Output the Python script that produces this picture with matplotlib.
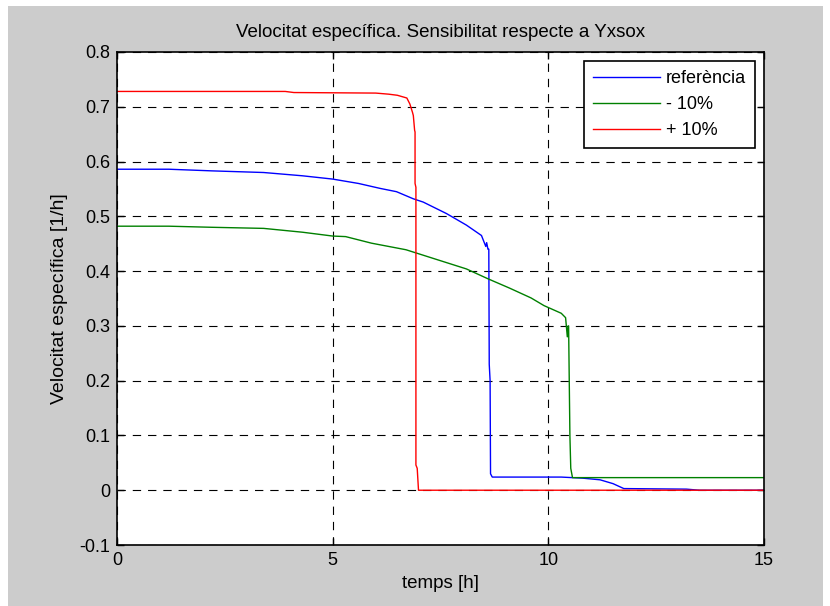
import matplotlib
matplotlib.use('Agg')
import matplotlib.pyplot as plt
from matplotlib.patches import Rectangle

plt.rcParams['font.family'] = ['Liberation Sans', 'DejaVu Sans']
plt.rcParams['lines.scale_dashes'] = False

# referència
t_blue = [0, 1.2, 2.2, 3.4, 4.3, 5.0, 5.6, 6.1, 6.48, 6.87, 7.1, 7.64, 8.1, 8.45,
          8.55, 8.57, 8.6, 8.62, 8.63, 8.65, 8.66, 8.7, 10.3, 10.8, 11.2, 11.5,
          11.75, 13.2, 13.5, 15]
v_blue = [0.586, 0.586, 0.583, 0.580, 0.574, 0.568, 0.560, 0.551, 0.545, 0.532,
          0.526, 0.505, 0.484, 0.465, 0.445, 0.452, 0.44, 0.44, 0.23, 0.20, 0.03,
          0.024, 0.024, 0.022, 0.019, 0.012, 0.003, 0.002, 0.0, 0.0]

# - 10%
t_green = [0, 1.2, 2.2, 3.4, 4.3, 5.0, 5.3, 5.9, 6.7, 7.1, 7.7, 8.1, 8.6, 9.1,
           9.6, 9.9, 10.3, 10.4, 10.44, 10.46, 10.47, 10.5, 10.52, 10.56, 15]
v_green = [0.482, 0.482, 0.480, 0.478, 0.471, 0.464, 0.463, 0.451, 0.439, 0.429,
           0.414, 0.404, 0.386, 0.369, 0.351, 0.337, 0.323, 0.315, 0.28, 0.30,
           0.30, 0.10, 0.04, 0.023, 0.023]

# + 10%
t_red = [0, 3.9, 4.1, 6.0, 6.3, 6.5, 6.72, 6.79, 6.85, 6.87, 6.90, 6.91, 6.91,
         6.93, 6.93, 6.96, 6.99, 15]
v_red = [0.728, 0.728, 0.726, 0.725, 0.723, 0.721, 0.716, 0.705, 0.69, 0.684,
         0.657, 0.654, 0.56, 0.553, 0.046, 0.04, 0.0, 0.0]

x_ticks = [0, 5, 10, 15]
y_ticks = [-0.1, 0, 0.1, 0.2, 0.3, 0.4, 0.5, 0.6, 0.7, 0.8]
y_tick_labels = ['-0.1', '0', '0.1', '0.2', '0.3', '0.4', '0.5', '0.6', '0.7', '0.8']

fig = plt.figure(figsize=(8.3, 6.06), dpi=100, facecolor='white')
fig.patches.append(Rectangle((8 / 830, 0), (823 - 8) / 830, 1 - 6 / 606,
                             transform=fig.transFigure, facecolor='#cccccc',
                             edgecolor='none', zorder=-10))
ax = fig.add_axes([117 / 830, 1 - 545 / 606, (764 - 117) / 830, (545 - 52) / 606])
ax.set_facecolor('white')

ax.plot(t_blue, v_blue, color='#0000ff', lw=1, label='referència')
ax.plot(t_green, v_green, color='#008000', lw=1, label='- 10%')
ax.plot(t_red, v_red, color='#ff0000', lw=1, label='+ 10%')

ax.set_xlim(0, 15)
ax.set_ylim(-0.1, 0.8)
ax.set_xticks(x_ticks)
ax.set_yticks(y_ticks)
ax.set_yticklabels(y_tick_labels)
ax.tick_params(direction='in', top=True, right=True, length=5, width=1,
               labelsize=13, pad=5)
for s in ax.spines.values():
    s.set_linewidth(1.2)

ax.grid(True, color='black', linewidth=0.8, linestyle=(0, (6, 5)))
ax.set_axisbelow(True)

ax.set_title('Velocitat específica. Sensibilitat respecte a Yxsox', fontsize=13.5, pad=11)
ax.set_xlabel('temps [h]', fontsize=13.5, labelpad=4)
ax.set_ylabel('Velocitat específica [1/h]', fontsize=14, labelpad=8)

leg = ax.legend(loc='upper right', fontsize=13, fancybox=False, framealpha=1,
                edgecolor='black', borderpad=0.5, handlelength=3.7,
                handletextpad=0.35, labelspacing=0.5, borderaxespad=0.5)
leg.get_frame().set_linewidth(1.2)

fig.savefig('out.png', dpi=100, facecolor=fig.get_facecolor())
